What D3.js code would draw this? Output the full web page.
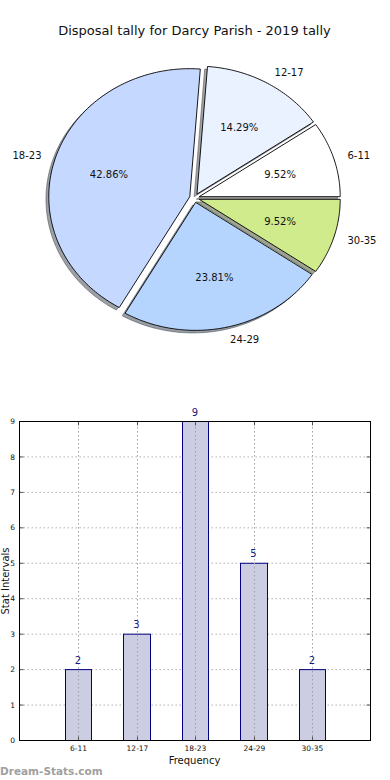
<!DOCTYPE html>
<html>
<head>
<meta charset="utf-8">
<script src="https://cdn.jsdelivr.net/npm/d3@7"></script>
<style>
  html, body { margin: 0; padding: 0; background: #fff; }
  svg { display: block; font-family: "DejaVu Sans", sans-serif; }
</style>
</head>
<body>
<svg id="chart" width="390" height="780"></svg>
<script>
// ---- data ----
const categories = ["6-11", "12-17", "18-23", "24-29", "30-35"];
const values = [2, 3, 9, 5, 2];
const sliceColors = ["#ffffff", "#eaf1ff", "#c5d8ff", "#b5d5ff", "#cfeb8b"];
const yTicks = [0, 1, 2, 3, 4, 5, 6, 7, 8, 9];
const title = "Disposal tally for Darcy Parish - 2019 tally";
const xLabel = "Frequency";
const yLabel = "Stat Intervals";
const watermark = "Dream-Stats.com";

const svg = d3.select("#chart");

// ---- title ----
svg.append("text")
  .attr("x", 194.5).attr("y", 34.5)
  .attr("text-anchor", "middle")
  .attr("font-size", 13).attr("fill", "#111")
  .text(title);

// ---- pie (matplotlib-like, elliptical, exploded, shadowed) ----
const px = d3.scaleLinear().domain([-1, 1]).range([194.5 - 141, 194.5 + 141]);
const py = d3.scaleLinear().domain([-1, 1]).range([198 + 128, 198 - 128]);
const explode = 0.035;
const shadowOff = [-0.02, -0.02];

const pie = d3.pie().sort(null).value(d => d)
  .startAngle(0).endAngle(2 * Math.PI); // used as ccw math angles from 3 o'clock
const arcs = pie(values);

function wedgePoints(a, dx, dy) {
  const mid = (a.startAngle + a.endAngle) / 2;
  const cxd = explode * Math.cos(mid) + dx;
  const cyd = explode * Math.sin(mid) + dy;
  const pts = [[cxd, cyd]];
  const n = Math.max(8, Math.ceil((a.endAngle - a.startAngle) / (Math.PI / 180)));
  for (let k = 0; k <= n; k++) {
    const t = a.startAngle + (a.endAngle - a.startAngle) * k / n;
    pts.push([cxd + Math.cos(t), cyd + Math.sin(t)]);
  }
  return pts;
}
const line = d3.line().x(d => px(d[0])).y(d => py(d[1])).curve(d3.curveLinearClosed);

const gPie = svg.append("g");
// shadows
arcs.forEach((a, i) => {
  const c = d3.rgb(sliceColors[i]);
  const sc = d3.rgb(c.r * 0.3, c.g * 0.3, c.b * 0.3).toString();
  gPie.append("path")
    .attr("d", line(wedgePoints(a, shadowOff[0], shadowOff[1])))
    .attr("fill", sc).attr("fill-opacity", 0.5)
    .attr("stroke", sc).attr("stroke-opacity", 0.5).attr("stroke-width", 1);
});
// wedges
arcs.forEach((a, i) => {
  gPie.append("path")
    .attr("d", line(wedgePoints(a, 0, 0)))
    .attr("fill", sliceColors[i])
    .attr("stroke", "#000").attr("stroke-width", 0.9)
    .attr("stroke-linejoin", "round");
});
const total = d3.sum(values);
arcs.forEach((a, i) => {
  const mid = (a.startAngle + a.endAngle) / 2;
  const cxd = explode * Math.cos(mid), cyd = explode * Math.sin(mid);
  const lx = cxd + 1.1 * Math.cos(mid), ly = cyd + 1.1 * Math.sin(mid);
  gPie.append("text")
    .attr("x", px(lx)).attr("y", py(ly))
    .attr("dy", "0.35em")
    .attr("text-anchor", lx > 0 ? "start" : "end")
    .attr("font-size", 10).attr("fill", "#111")
    .text(categories[i]);
  const qx = cxd + 0.6 * Math.cos(mid), qy = cyd + 0.6 * Math.sin(mid);
  gPie.append("text")
    .attr("x", px(qx)).attr("y", py(qy))
    .attr("dy", "0.35em")
    .attr("text-anchor", "middle")
    .attr("font-size", 10).attr("fill", "#111")
    .text((values[i] / total * 100).toFixed(2) + "%");
});

// ---- bar chart ----
const x = d3.scaleLinear().domain([0, categories.length + 1]).range([19.5, 370.5]);
const y = d3.scaleLinear().domain([0, 9]).range([740.5, 421.5]);
const gBar = svg.append("g");

// grid
gBar.selectAll("line.hgrid").data(yTicks.slice(1, -1)).join("line")
  .attr("x1", x.range()[0]).attr("x2", x.range()[1])
  .attr("y1", d => y(d)).attr("y2", d => y(d))
  .attr("stroke", "#b0b0b0").attr("stroke-width", 1).attr("stroke-dasharray", "1.5,2.5");

// bars
const bw = 0.45;
gBar.selectAll("rect.bar").data(values).join("rect")
  .attr("x", (d, i) => Math.round(x(i + 1 - bw / 2)) + 0.5)
  .attr("y", d => y(d))
  .attr("width", (d, i) => Math.round(x(i + 1 + bw / 2)) - Math.round(x(i + 1 - bw / 2)))
  .attr("height", d => y(0) - y(d))
  .attr("fill", "#ccccE3").attr("stroke", "#000080").attr("stroke-width", 1);

// vertical grid (over bars, like matplotlib)
gBar.selectAll("line.vgrid").data(categories).join("line")
  .attr("x1", (d, i) => Math.round(x(i + 1)) + 0.5).attr("x2", (d, i) => Math.round(x(i + 1)) + 0.5)
  .attr("y1", y.range()[0]).attr("y2", y.range()[1])
  .attr("stroke", "#a0a0a8").attr("stroke-width", 1).attr("stroke-dasharray", "1.5,2.5");

// y ticks (inside, both sides)
const ya = gBar.append("g");
yTicks.forEach(t => {
  ya.append("line").attr("x1", x.range()[0]).attr("x2", x.range()[0] + 4)
    .attr("y1", y(t)).attr("y2", y(t)).attr("stroke", "#555");
  ya.append("line").attr("x1", x.range()[1]).attr("x2", x.range()[1] - 4)
    .attr("y1", y(t)).attr("y2", y(t)).attr("stroke", "#555");
  ya.append("text").attr("x", 15).attr("y", y(t)).attr("dy", "0.35em")
    .attr("text-anchor", "end").attr("font-size", 7.5).attr("fill", "#111")
    .text(t);
});
// x ticks
categories.forEach((c, i) => {
  const xx = Math.round(x(i + 1)) + 0.5;
  ya.append("line").attr("x1", xx).attr("x2", xx)
    .attr("y1", y.range()[0]).attr("y2", y.range()[0] - 4).attr("stroke", "#555");
  ya.append("line").attr("x1", xx).attr("x2", xx)
    .attr("y1", y.range()[1]).attr("y2", y.range()[1] + 4).attr("stroke", "#555");
  ya.append("text").attr("x", xx).attr("y", 751)
    .attr("text-anchor", "middle").attr("font-size", 7.5).attr("fill", "#111")
    .text(c);
});

// frame
gBar.append("rect")
  .attr("x", x.range()[0]).attr("y", y.range()[1])
  .attr("width", x.range()[1] - x.range()[0]).attr("height", y.range()[0] - y.range()[1])
  .attr("fill", "none").attr("stroke", "#000").attr("stroke-width", 1);

// value labels
gBar.selectAll("text.val").data(values).join("text")
  .attr("x", (d, i) => x(i + 1)).attr("y", d => y(d) - 6)
  .attr("text-anchor", "middle").attr("font-size", 10).attr("fill", "#1a1a80")
  .text(d => d);

// axis labels
svg.append("text").attr("x", 194.5).attr("y", 764)
  .attr("text-anchor", "middle").attr("font-size", 10).attr("fill", "#111")
  .text(xLabel);
svg.append("text")
  .attr("transform", `translate(8.5,${(y.range()[0] + y.range()[1]) / 2}) rotate(-90)`)
  .attr("text-anchor", "middle").attr("font-size", 10).attr("fill", "#111")
  .text(yLabel);

// watermark
svg.append("text").attr("x", 0).attr("y", 775)
  .attr("font-size", 10.5).attr("font-weight", "bold").attr("fill", "#a0a0a0")
  .text(watermark);
</script>
</body>
</html>
